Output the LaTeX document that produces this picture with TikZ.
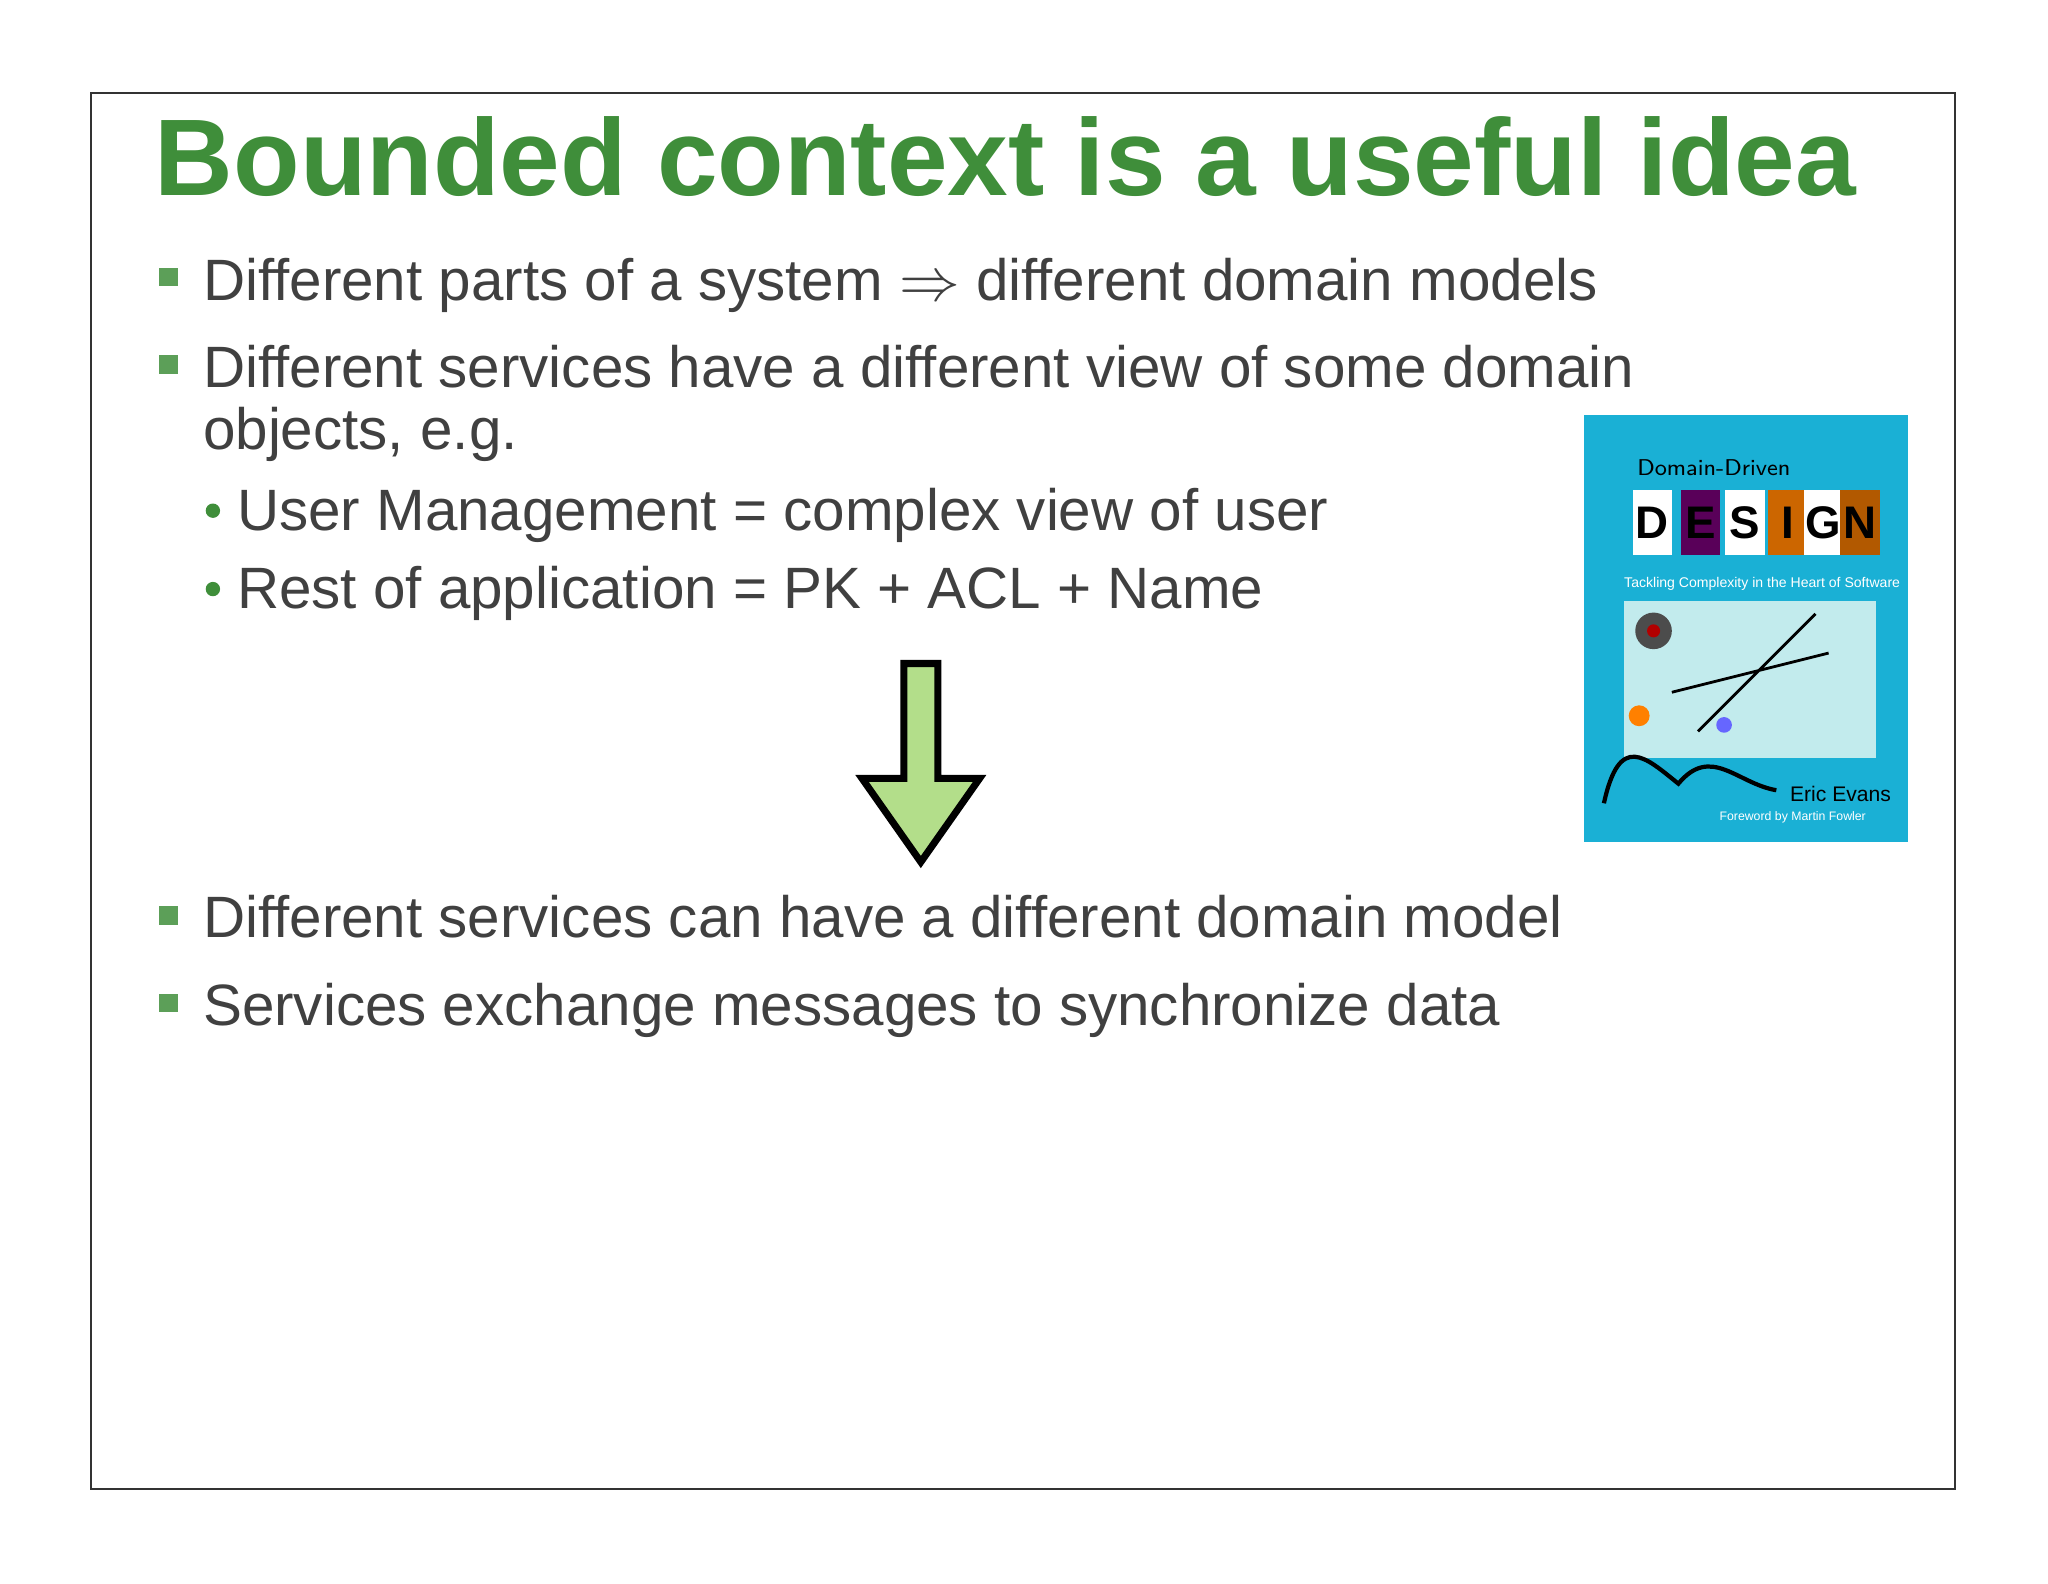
\documentclass[tikz,border=0pt]{standalone}
\usepackage{fontspec}
\setmainfont{Liberation Sans}
\definecolor{titlegreen}{HTML}{3F8E3A}
\definecolor{bodygray}{HTML}{404040}
\definecolor{arrowgreen}{HTML}{B3DE8A}
\definecolor{bookcyan}{HTML}{1AB0D5}
\begin{document}
\begin{tikzpicture}[x=0.013061cm,y=-0.013061cm,
  titletext/.style={anchor=base west,inner sep=0,text=titlegreen,font=\fontsize{31}{36}\selectfont\bfseries},
  bodytext/.style={anchor=base west,inner sep=0,text=bodygray,font=\fontsize{16.6}{20}\selectfont},
  sqbullet/.style={fill=titlegreen!85!white,draw=none},
  dotbullet/.style={fill=titlegreen,draw=none}]
\useasboundingbox (0,0) rectangle (1568,1212);
\fill[white] (0,0) rectangle (1568,1212);
\draw[black!80,line width=0.6pt] (70,71) rectangle (1497,1140);
\node[titletext] (title) at (118,150) {Bounded context is a useful idea};
% bullets
\fill[sqbullet] (122,205) rectangle (136,219);
\node[bodytext] (b1) at (155,230) {Different parts of a system $\Rightarrow$ different domain models};
\fill[sqbullet] (122,272) rectangle (136,286);
\node[bodytext] (b2) at (155,297) {Different services have a different view of some domain};
\node[bodytext] (b2b) at (155,344) {objects, e.g.};
\fill[dotbullet] (163,391) circle (5.5);
\node[bodytext] (s1) at (181,406) {User Management = complex view of user};
\fill[dotbullet] (163,451) circle (5.5);
\node[bodytext] (s2) at (181,466) {Rest of application = PK + ACL + Name};
\fill[sqbullet] (122,694) rectangle (136,708);
\node[bodytext] (b3) at (155,718) {Different services can have a different domain model};
\fill[sqbullet] (122,761) rectangle (136,775);
\node[bodytext] (b4) at (155,785) {Services exchange messages to synchronize data};
% arrow
\draw[fill=arrowgreen,line width=2pt,line join=miter]
  (692,508) -- (718,508) -- (718,596) -- (750,596) -- (705,660) -- (660,596) -- (692,596) -- cycle;
% book
\fill[bookcyan] (1213,318) rectangle (1461,645);
\node[anchor=base west,inner sep=0,font=\fontsize{6.5}{7}\selectfont\sffamily] (bt) at (1253,364) {Domain-Driven};
\foreach \l/\x/\c in {D/1250/white,E/1287/violet!70!black,S/1321/white,I/1354/orange!80!black,G/1381/white,N/1409/orange!70!black}{
  \fill[\c] (\x,375) rectangle (\x+30,425);
  \node[inner sep=0,font=\fontsize{13}{14}\selectfont\bfseries\rmfamily,text=black] at (\x+15,400) {\l};}
\node[anchor=base west,inner sep=0,font=\fontsize{4}{5}\selectfont,text=white] at (1243,450) {Tackling Complexity in the Heart of Software};
\fill[yellow!20!cyan!30!white] (1243,460) rectangle (1436,580);
\fill[black!70] (1266,483) circle (14);
\fill[red!70!black] (1266,483) circle (5);
\draw[black,thick] (1280,530) -- (1400,500) (1300,560) -- (1390,470);
\fill[orange] (1255,548) circle (8);
\fill[blue!60] (1320,555) circle (6);
\draw[black,line width=1.2pt] (1228,615) .. controls (1240,560) and (1260,580) .. (1285,600) .. controls (1310,570) and (1330,600) .. (1360,605);
\node[anchor=base west,inner sep=0,font=\fontsize{6}{7}\selectfont] at (1370,614) {Eric Evans};
\node[anchor=base west,inner sep=0,font=\fontsize{3.5}{4}\selectfont,text=white] at (1316,628) {Foreword by Martin Fowler};
\end{tikzpicture}
\end{document}
